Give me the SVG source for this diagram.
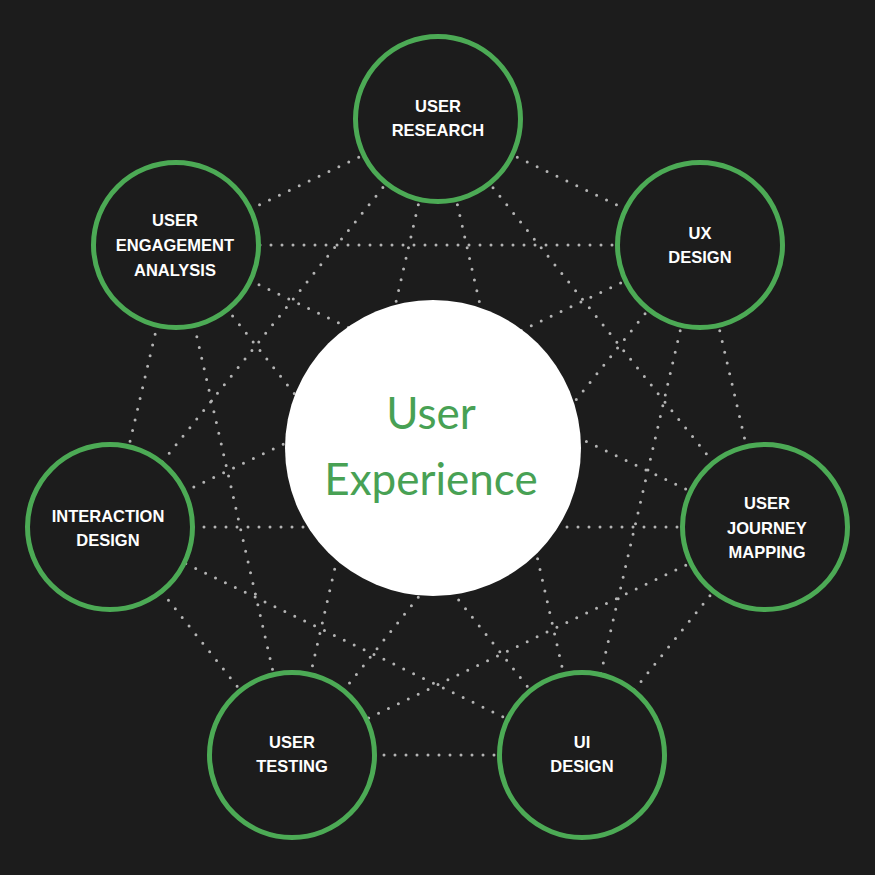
<svg xmlns="http://www.w3.org/2000/svg" width="875" height="875" viewBox="0 0 875 875">
<style>
.bg{fill:#1c1c1c}
.link{stroke:#b4b4b4;stroke-width:3;stroke-linecap:round;stroke-dasharray:0 11;fill:none}
.ring{fill:#1c1c1c;stroke:#4caa55;stroke-width:5}
.lbl{fill:#ffffff;font-family:"Liberation Sans",Arial,sans-serif;font-weight:bold;font-size:16.5px;text-anchor:middle}
.core{fill:#ffffff}
.coretxt{fill:#48a154;font-family:Lato,"Noto Sans",sans-serif;font-size:44px;text-anchor:middle}
</style>
<rect class="bg" x="0" y="0" width="875" height="875"/>
<g id="connectors">
<line class="link" x1="438" y1="119" x2="700" y2="245"/>
<line class="link" x1="438" y1="119" x2="765" y2="527"/>
<line class="link" x1="438" y1="119" x2="582" y2="755"/>
<line class="link" x1="438" y1="119" x2="292" y2="755"/>
<line class="link" x1="438" y1="119" x2="110" y2="527"/>
<line class="link" x1="438" y1="119" x2="176" y2="245"/>
<line class="link" x1="700" y1="245" x2="765" y2="527"/>
<line class="link" x1="700" y1="245" x2="582" y2="755"/>
<line class="link" x1="700" y1="245" x2="292" y2="755"/>
<line class="link" x1="700" y1="245" x2="110" y2="527"/>
<line class="link" x1="700" y1="245" x2="176" y2="245"/>
<line class="link" x1="765" y1="527" x2="582" y2="755"/>
<line class="link" x1="765" y1="527" x2="292" y2="755"/>
<line class="link" x1="765" y1="527" x2="110" y2="527"/>
<line class="link" x1="765" y1="527" x2="176" y2="245"/>
<line class="link" x1="582" y1="755" x2="292" y2="755"/>
<line class="link" x1="582" y1="755" x2="110" y2="527"/>
<line class="link" x1="582" y1="755" x2="176" y2="245"/>
<line class="link" x1="292" y1="755" x2="110" y2="527"/>
<line class="link" x1="292" y1="755" x2="176" y2="245"/>
<line class="link" x1="110" y1="527" x2="176" y2="245"/>
</g>
<g id="user-experience">
<circle class="core" cx="433" cy="448" r="148"/>
<text class="coretxt" x="431" y="429">User</text>
<text class="coretxt" x="431" y="495">Experience</text>
</g>
<g id="user-research">
<circle class="ring" cx="438" cy="119" r="82.5"/>
<text class="lbl" x="438" y="112">USER</text>
<text class="lbl" x="438" y="136">RESEARCH</text>
</g>
<g id="ux-design">
<circle class="ring" cx="700" cy="245" r="82.5"/>
<text class="lbl" x="700" y="239">UX</text>
<text class="lbl" x="700" y="263">DESIGN</text>
</g>
<g id="user-journey-mapping">
<circle class="ring" cx="765" cy="527" r="82.5"/>
<text class="lbl" x="767" y="509">USER</text>
<text class="lbl" x="767" y="534">JOURNEY</text>
<text class="lbl" x="767" y="558">MAPPING</text>
</g>
<g id="ui-design">
<circle class="ring" cx="582" cy="755" r="82.5"/>
<text class="lbl" x="582" y="748">UI</text>
<text class="lbl" x="582" y="772">DESIGN</text>
</g>
<g id="user-testing">
<circle class="ring" cx="292" cy="755" r="82.5"/>
<text class="lbl" x="292" y="748">USER</text>
<text class="lbl" x="292" y="772">TESTING</text>
</g>
<g id="interaction-design">
<circle class="ring" cx="110" cy="527" r="82.5"/>
<text class="lbl" x="108" y="522">INTERACTION</text>
<text class="lbl" x="108" y="546">DESIGN</text>
</g>
<g id="user-engagement-analysis">
<circle class="ring" cx="176" cy="245" r="82.5"/>
<text class="lbl" x="175" y="226">USER</text>
<text class="lbl" x="175" y="251">ENGAGEMENT</text>
<text class="lbl" x="175" y="276">ANALYSIS</text>
</g>
</svg>
